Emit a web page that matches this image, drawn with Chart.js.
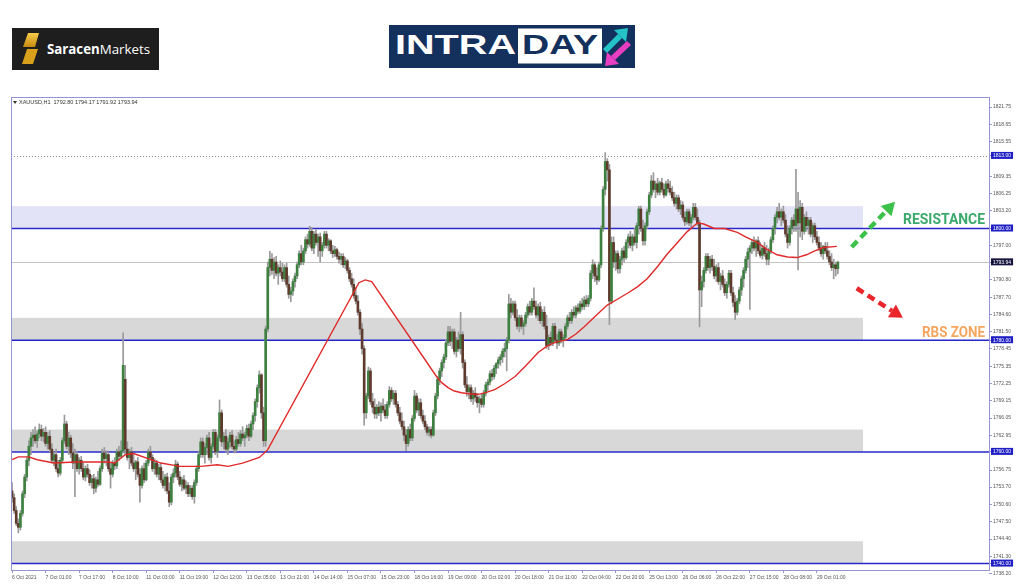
<!DOCTYPE html>
<html>
<head>
<meta charset="utf-8">
<title>XAUUSD H1 - Intraday</title>
<script src="https://cdn.jsdelivr.net/npm/chart.js@4.4.1/dist/chart.umd.min.js"></script>
<style>
  html, body { margin: 0; padding: 0; background: #fff; }
  #wrap { position: relative; width: 1024px; height: 587px; overflow: hidden; }
  #chart { position: absolute; left: 0; top: 0; }
  .logo { position: absolute; }
</style>
</head>
<body>
<div id="wrap">
  <canvas id="chart" width="1024" height="587"></canvas>

  <svg class="logo" style="left:12px;top:28px" width="147" height="42" viewBox="0 0 147 42">
    <defs>
      <linearGradient id="gold" x1="0" y1="0" x2="0" y2="1">
        <stop offset="0" stop-color="#f8cc4a"/>
        <stop offset="1" stop-color="#c58a10"/>
      </linearGradient>
    </defs>
    <rect width="147" height="42" fill="#1e1e1e"/>
    <polygon points="16,5 27,5 23,19 11,19" fill="url(#gold)"/>
    <polygon points="15,21 26,21 21,36 10,36" fill="#d9a01c"/>
    <text x="35" y="25.5" font-family="Open Sans, Liberation Sans, sans-serif" font-size="13.5" fill="#fff" textLength="103" lengthAdjust="spacingAndGlyphs"><tspan font-weight="bold">Saracen</tspan>Markets</text>
  </svg>

  <svg class="logo" style="left:389px;top:25px" width="246" height="43" viewBox="0 0 246 43">
    <rect width="246" height="43" fill="#14305c"/>
    <text x="6" y="28.5" font-family="Liberation Sans, Arial, sans-serif" font-weight="bold" font-size="28.5" fill="#fff" textLength="121" lengthAdjust="spacingAndGlyphs">INTRA</text>
    <rect x="129" y="3.5" width="84" height="35" fill="#fff"/>
    <text x="133" y="28.5" font-family="Liberation Sans, Arial, sans-serif" font-weight="bold" font-size="28.5" fill="#14305c" textLength="76" lengthAdjust="spacingAndGlyphs">DAY</text>
    <polygon points="214,24 218,28 233,13 229,9" fill="#25c2c8"/>
    <polygon points="225,5 237,17 239,3" fill="#25c2c8"/>
    <polygon points="222,31 226,35 242,20 238,16" fill="#e83fc2"/>
    <polygon points="218,27 230,39 216,41" fill="#e83fc2"/>
  </svg>
</div>

<script>
// time axis: one label every 16 hourly bars
const timeLabels = ["6 Oct 2021", "7 Oct 01:00", "7 Oct 17:00", "8 Oct 10:00", "11 Oct 03:00", "11 Oct 19:00",
  "12 Oct 12:00", "13 Oct 05:00", "13 Oct 21:00", "14 Oct 14:00", "15 Oct 07:00", "15 Oct 23:00",
  "18 Oct 16:00", "19 Oct 09:00", "20 Oct 02:00", "20 Oct 18:00", "21 Oct 11:00", "22 Oct 04:00",
  "22 Oct 20:00", "25 Oct 13:00", "26 Oct 06:00", "26 Oct 22:00", "27 Oct 15:00", "28 Oct 08:00", "29 Oct 01:00"];
const barsPerLabel = 16;

// price axis
const priceTicks = [1821.75, 1818.65, 1815.55, 1813.00, 1809.35, 1806.25, 1803.20, 1800.00, 1797.00, 1793.94,
  1790.80, 1787.70, 1784.60, 1781.50, 1780.00, 1778.45, 1775.35, 1772.25, 1769.15, 1766.05, 1762.95,
  1760.00, 1756.75, 1753.70, 1750.60, 1747.50, 1744.40, 1741.30, 1740.00, 1738.20];
const markedPrices = [1813.00, 1800.00, 1780.00, 1760.00, 1740.00];
const levels = [1800, 1780, 1760, 1740];
const zones = [[1800, 1804], [1780, 1784], [1760, 1764], [1740, 1744]];
const dottedLevel = 1813.00;

// XAUUSD H1 candles
const opens = [
  1753.0,1751.8,1749.5,1747.2,1746.5,1749.0,1752.5,1755.5,1758.5,1761.0,
  1762.5,1763.0,1762.0,1763.2,1764.0,1762.8,1763.5,1761.5,1762.8,1760.5,
  1758.5,1759.5,1757.0,1756.2,1758.5,1762.0,1765.0,1761.0,1762.5,1759.8,
  1758.0,1759.5,1757.0,1758.5,1757.0,1755.5,1757.0,1756.0,1754.5,1755.2,
  1753.5,1755.0,1754.2,1757.0,1759.8,1758.8,1759.5,1757.0,1756.0,1758.0,
  1757.5,1760.0,1759.2,1760.2,1773.0,1760.5,1759.0,1760.0,1758.0,1757.0,
  1758.2,1756.0,1754.0,1757.0,1755.0,1758.0,1760.0,1759.0,1757.0,1758.0,
  1756.0,1757.2,1755.0,1754.0,1755.5,1753.0,1751.0,1755.5,1756.2,1757.8,
  1755.5,1754.2,1755.0,1753.5,1754.0,1752.5,1753.5,1752.0,1754.5,1757.0,
  1759.5,1761.8,1759.5,1760.8,1762.5,1759.0,1761.0,1763.5,1760.0,1762.5,
  1767.0,1761.8,1762.8,1760.5,1761.8,1763.0,1761.0,1760.5,1762.2,1761.5,
  1763.2,1762.5,1763.0,1764.2,1762.8,1765.0,1766.5,1769.0,1771.5,1773.8,
  1767.0,1762.0,1782.0,1793.0,1794.5,1792.5,1794.0,1792.0,1793.0,1792.2,
  1791.0,1793.0,1790.0,1788.2,1788.8,1790.5,1791.5,1793.5,1795.5,1794.0,
  1796.0,1798.0,1797.2,1799.5,1796.5,1799.0,1797.5,1798.5,1796.0,1797.0,
  1799.0,1797.0,1797.8,1796.0,1795.5,1796.2,1795.0,1794.5,1795.0,1793.5,
  1794.2,1792.5,1791.0,1790.0,1788.0,1787.0,1785.0,1782.0,1778.5,1767.0,
  1770.0,1774.5,1769.0,1768.0,1766.8,1768.0,1767.0,1768.2,1767.5,1766.5,
  1768.5,1771.0,1769.5,1770.5,1768.5,1767.0,1765.5,1764.5,1763.0,1761.5,
  1764.0,1762.5,1766.0,1770.0,1767.5,1768.8,1766.5,1765.5,1764.5,1763.5,
  1764.0,1763.0,1767.0,1770.0,1773.0,1774.5,1776.0,1777.0,1779.5,1781.5,
  1779.8,1781.5,1778.0,1780.0,1778.5,1781.0,1776.0,1772.0,1770.8,1771.5,
  1769.5,1770.5,1769.8,1768.8,1769.5,1768.5,1770.5,1772.0,1772.5,1774.0,
  1773.5,1775.0,1775.8,1776.5,1777.0,1778.0,1778.5,1780.0,1786.5,1785.0,
  1786.5,1784.0,1782.5,1784.0,1782.5,1783.0,1784.5,1786.0,1785.0,1787.0,
  1786.0,1784.5,1786.0,1783.5,1785.0,1782.5,1779.0,1780.5,1779.5,1782.5,
  1780.0,1779.5,1781.5,1780.0,1780.5,1782.5,1784.0,1783.5,1785.0,1784.5,
  1785.8,1785.2,1786.5,1786.0,1787.2,1786.5,1787.5,1792.0,1793.5,1791.5,
  1790.8,1793.5,1800.0,1807.0,1812.0,1810.5,1787.0,1797.5,1794.0,1795.5,
  1792.8,1794.5,1796.0,1794.8,1797.5,1798.5,1797.0,1798.5,1797.5,1800.5,
  1803.5,1800.0,1797.8,1800.5,1803.0,1806.0,1808.5,1807.0,1808.0,1806.5,
  1808.2,1807.0,1806.0,1808.0,1807.2,1806.5,1805.5,1804.5,1805.5,1803.5,
  1804.2,1802.0,1801.2,1803.0,1801.0,1802.0,1803.8,1802.0,1801.0,1789.0,
  1790.5,1792.5,1795.0,1793.0,1794.5,1793.2,1791.5,1793.0,1790.5,1791.5,
  1790.0,1788.5,1790.0,1792.0,1788.5,1786.8,1785.0,1787.0,1789.0,1791.0,
  1792.5,1794.5,1795.8,1796.5,1797.5,1796.5,1797.8,1796.0,1795.2,1796.5,
  1795.5,1794.5,1796.0,1798.0,1800.0,1802.0,1803.0,1802.0,1803.0,1801.5,
  1799.0,1797.5,1800.0,1801.5,1800.5,1803.5,1801.0,1803.8,1799.5,1802.0,
  1800.5,1801.5,1799.0,1800.5,1798.5,1797.5,1796.5,1795.5,1796.8,1796.0,
  1795.0,1794.0,1793.0,1793.5,1792.80];
const highs = [
  1754.5,1752.5,1750.2,1748.0,1749.5,1753.0,1756.0,1759.0,1762.0,1763.5,
  1764.0,1764.5,1763.8,1765.0,1764.8,1764.2,1764.5,1763.5,1763.8,1761.5,
  1760.0,1760.5,1758.5,1759.0,1762.5,1766.6,1765.5,1763.5,1763.0,1761.5,
  1760.5,1760.0,1759.0,1759.2,1758.0,1757.5,1757.8,1756.8,1755.8,1756.0,
  1755.5,1756.5,1757.5,1760.5,1760.8,1760.2,1760.0,1758.0,1758.5,1759.0,
  1760.5,1761.0,1762.0,1781.3,1775.5,1761.8,1760.5,1760.8,1759.5,1758.5,
  1759.0,1757.0,1757.5,1758.0,1758.5,1760.5,1761.0,1759.5,1758.8,1758.5,
  1757.8,1758.0,1756.5,1756.0,1756.2,1754.5,1756.0,1757.0,1758.5,1758.2,
  1756.5,1755.5,1755.8,1754.8,1754.5,1754.0,1754.0,1755.0,1757.5,1760.0,
  1762.5,1762.5,1761.5,1763.0,1763.5,1761.5,1764.0,1764.0,1763.0,1769.3,
  1767.5,1763.5,1764.0,1762.5,1763.5,1763.8,1762.0,1762.8,1763.5,1763.8,
  1764.5,1763.5,1764.8,1765.0,1765.5,1767.0,1769.5,1772.0,1774.5,1774.0,
  1768.0,1782.5,1794.0,1795.9,1795.5,1794.8,1795.0,1793.5,1794.2,1793.8,
  1793.5,1793.8,1791.5,1789.5,1791.0,1792.0,1794.0,1796.0,1797.0,1796.5,
  1798.5,1799.0,1800.4,1800.2,1799.5,1799.8,1799.0,1799.2,1797.5,1799.5,
  1799.5,1798.2,1798.0,1797.0,1796.8,1796.5,1795.8,1795.5,1795.5,1794.8,
  1794.5,1793.0,1792.0,1791.0,1789.5,1788.0,1785.5,1783.0,1779.0,1770.5,
  1775.2,1775.0,1770.5,1769.5,1768.5,1769.0,1768.8,1769.5,1768.5,1769.0,
  1771.7,1771.5,1771.0,1771.0,1769.0,1768.0,1767.0,1765.5,1764.0,1764.5,
  1765.0,1766.5,1771.0,1770.5,1769.5,1769.5,1767.5,1766.5,1765.0,1764.5,
  1764.5,1767.5,1770.5,1773.5,1775.0,1776.5,1777.5,1780.0,1782.5,1782.5,
  1782.0,1782.0,1780.5,1781.5,1785.0,1781.5,1776.5,1773.5,1772.0,1772.0,
  1771.0,1771.5,1770.5,1770.0,1770.5,1771.0,1772.5,1773.0,1774.5,1774.8,
  1775.5,1776.0,1777.0,1777.5,1778.5,1779.5,1780.5,1788.2,1787.5,1787.0,
  1787.0,1785.5,1784.5,1784.5,1783.5,1785.0,1786.5,1787.0,1787.5,1789.4,
  1787.0,1786.5,1786.8,1785.5,1786.0,1784.5,1781.0,1781.5,1783.0,1783.0,
  1781.0,1782.0,1782.0,1781.0,1783.0,1784.5,1785.0,1785.5,1786.0,1786.2,
  1786.5,1787.0,1787.5,1787.8,1788.0,1788.0,1792.5,1794.4,1794.0,1793.0,
  1794.0,1800.5,1807.5,1813.6,1812.5,1811.5,1798.5,1798.5,1796.0,1796.0,
  1795.0,1796.5,1796.8,1798.0,1799.0,1799.5,1799.0,1800.0,1801.0,1804.0,
  1804.0,1801.5,1801.0,1803.5,1806.5,1809.5,1810.0,1808.5,1809.0,1808.5,
  1809.0,1808.0,1808.5,1808.8,1808.5,1807.5,1806.5,1806.0,1806.0,1805.0,
  1804.8,1803.0,1803.5,1803.5,1802.5,1804.5,1804.5,1803.5,1801.5,1791.5,
  1793.0,1795.5,1795.5,1795.0,1795.2,1794.5,1793.5,1793.8,1792.0,1792.5,
  1791.0,1790.5,1792.5,1792.5,1789.5,1788.0,1787.5,1789.5,1791.5,1793.0,
  1795.0,1796.5,1797.0,1798.0,1798.5,1798.0,1798.5,1797.5,1797.0,1797.5,
  1797.0,1796.5,1798.5,1800.5,1802.5,1803.8,1804.5,1803.5,1804.0,1802.5,
  1800.5,1800.5,1802.0,1802.5,1810.6,1806.5,1805.0,1804.5,1802.5,1803.0,
  1802.0,1802.0,1801.0,1801.0,1799.5,1798.5,1797.5,1797.0,1797.5,1797.5,
  1796.0,1795.5,1794.5,1794.0,1794.17];
const lows = [
  1751.0,1749.0,1746.8,1745.5,1746.0,1748.5,1751.8,1754.8,1757.5,1759.5,
  1761.0,1761.5,1760.8,1762.5,1762.0,1761.8,1761.0,1760.5,1760.0,1758.0,
  1757.5,1756.5,1755.5,1755.8,1758.0,1761.5,1760.5,1759.5,1759.0,1757.0,
  1752.0,1756.5,1756.0,1756.5,1755.0,1754.8,1755.5,1754.0,1753.5,1752.5,
  1752.8,1753.8,1754.0,1756.5,1758.0,1757.5,1756.5,1753.5,1755.5,1756.8,
  1757.0,1758.5,1759.0,1759.8,1759.5,1758.5,1757.0,1757.5,1756.5,1755.0,
  1755.5,1751.0,1753.5,1754.5,1754.8,1757.5,1758.5,1756.5,1756.0,1755.5,
  1755.0,1754.5,1753.5,1753.0,1752.5,1750.2,1750.5,1754.5,1755.5,1755.0,
  1753.8,1753.0,1753.2,1752.5,1752.0,1752.0,1751.5,1750.8,1754.0,1756.5,
  1759.0,1759.0,1758.0,1759.5,1758.5,1758.0,1760.5,1759.5,1759.0,1762.0,
  1761.0,1760.5,1760.0,1759.5,1760.8,1760.5,1759.8,1760.0,1761.0,1761.0,
  1762.0,1761.0,1762.5,1762.0,1762.5,1764.0,1765.5,1768.0,1770.5,1766.0,
  1761.0,1761.0,1781.5,1791.5,1791.8,1791.0,1791.5,1790.0,1791.5,1790.5,
  1790.5,1789.5,1787.5,1786.9,1788.0,1789.5,1791.0,1793.0,1793.5,1793.5,
  1795.5,1796.5,1796.8,1796.0,1795.5,1797.0,1795.0,1794.0,1795.0,1796.5,
  1796.5,1796.0,1795.5,1794.8,1795.0,1794.5,1793.8,1793.5,1793.0,1792.8,
  1792.0,1790.5,1789.5,1787.5,1786.5,1784.5,1781.0,1777.5,1764.8,1766.0,
  1769.5,1768.5,1767.0,1766.0,1766.0,1766.5,1765.5,1767.0,1766.0,1766.0,
  1768.0,1769.0,1768.5,1768.0,1766.5,1765.0,1764.0,1762.0,1760.2,1761.0,
  1762.0,1762.0,1765.5,1767.0,1766.5,1766.0,1765.0,1764.0,1763.0,1762.8,
  1762.5,1762.8,1766.5,1769.5,1772.0,1773.5,1775.0,1776.5,1779.0,1779.0,
  1778.5,1777.5,1777.0,1778.0,1777.5,1775.0,1771.5,1770.0,1769.5,1769.0,
  1768.5,1769.0,1768.0,1767.0,1768.0,1768.0,1770.0,1771.0,1772.0,1772.8,
  1773.0,1774.0,1775.0,1775.5,1776.0,1777.0,1774.5,1779.5,1784.0,1784.5,
  1783.5,1782.0,1781.5,1782.0,1781.0,1782.5,1784.0,1784.5,1784.5,1785.5,
  1784.0,1783.5,1783.0,1782.5,1782.0,1778.5,1778.3,1779.0,1779.0,1779.5,
  1778.5,1779.0,1779.5,1778.8,1780.0,1782.0,1783.0,1783.0,1784.0,1784.0,
  1784.8,1784.8,1785.5,1785.5,1786.0,1786.0,1787.0,1791.0,1790.5,1790.0,
  1790.5,1793.0,1799.5,1806.0,1808.5,1782.8,1786.5,1793.0,1792.5,1792.0,
  1792.0,1793.5,1794.0,1794.5,1796.5,1796.5,1796.0,1797.0,1796.5,1799.0,
  1799.5,1797.0,1797.0,1800.0,1802.5,1805.5,1806.5,1805.5,1806.0,1806.0,
  1806.5,1805.5,1805.8,1806.5,1806.0,1805.0,1804.0,1803.5,1803.0,1802.5,
  1801.5,1800.5,1800.8,1800.5,1800.0,1801.5,1801.5,1800.5,1782.4,1786.0,
  1789.5,1792.0,1792.5,1792.0,1792.5,1791.0,1790.5,1790.0,1789.0,1789.5,
  1788.0,1787.5,1789.5,1788.0,1786.0,1783.7,1784.5,1786.5,1788.0,1789.5,
  1792.0,1793.0,1785.5,1795.5,1796.0,1795.0,1795.5,1794.8,1794.5,1795.0,
  1793.5,1793.5,1795.5,1797.5,1799.0,1801.0,1801.5,1800.5,1801.0,1798.5,
  1796.5,1797.0,1799.0,1799.5,1799.5,1792.6,1798.5,1798.0,1799.0,1799.5,
  1799.0,1798.5,1797.5,1798.0,1797.0,1796.0,1795.0,1794.5,1795.5,1794.5,
  1793.5,1792.5,1791.0,1791.5,1791.92];
const closes = [
  1751.8,1749.5,1747.2,1746.5,1749.0,1752.5,1755.5,1758.5,1761.0,1762.5,
  1763.0,1762.0,1763.2,1764.0,1762.8,1763.5,1761.5,1762.8,1760.5,1758.5,
  1759.5,1757.0,1756.2,1758.5,1762.0,1765.0,1761.0,1762.5,1759.8,1758.0,
  1759.5,1757.0,1758.5,1757.0,1755.5,1757.0,1756.0,1754.5,1755.2,1753.5,
  1755.0,1754.2,1757.0,1759.8,1758.8,1759.5,1757.0,1756.0,1758.0,1757.5,
  1760.0,1759.2,1760.2,1775.5,1760.5,1759.0,1760.0,1758.0,1757.0,1758.2,
  1756.0,1754.0,1757.0,1755.0,1758.0,1760.0,1759.0,1757.0,1758.0,1756.0,
  1757.2,1755.0,1754.0,1755.5,1753.0,1751.0,1755.5,1756.2,1757.8,1755.5,
  1754.2,1755.0,1753.5,1754.0,1752.5,1753.5,1752.0,1754.5,1757.0,1759.5,
  1761.8,1759.5,1760.8,1762.5,1759.0,1761.0,1763.5,1760.0,1762.5,1767.0,
  1761.8,1762.8,1760.5,1761.8,1763.0,1761.0,1760.5,1762.2,1761.5,1763.2,
  1762.5,1763.0,1764.2,1762.8,1765.0,1766.5,1769.0,1771.5,1773.8,1767.0,
  1762.0,1782.0,1793.0,1794.5,1792.5,1794.0,1792.0,1793.0,1792.2,1791.0,
  1793.0,1790.0,1788.2,1788.8,1790.5,1791.5,1793.5,1795.5,1794.0,1796.0,
  1798.0,1797.2,1799.5,1796.5,1799.0,1797.5,1798.5,1796.0,1797.0,1799.0,
  1797.0,1797.8,1796.0,1795.5,1796.2,1795.0,1794.5,1795.0,1793.5,1794.2,
  1792.5,1791.0,1790.0,1788.0,1787.0,1785.0,1782.0,1778.5,1767.0,1770.0,
  1774.5,1769.0,1768.0,1766.8,1768.0,1767.0,1768.2,1767.5,1766.5,1768.5,
  1771.0,1769.5,1770.5,1768.5,1767.0,1765.5,1764.5,1763.0,1761.5,1764.0,
  1762.5,1766.0,1770.0,1767.5,1768.8,1766.5,1765.5,1764.5,1763.5,1764.0,
  1763.0,1767.0,1770.0,1773.0,1774.5,1776.0,1777.0,1779.5,1781.5,1779.8,
  1781.5,1778.0,1780.0,1778.5,1781.0,1776.0,1772.0,1770.8,1771.5,1769.5,
  1770.5,1769.8,1768.8,1769.5,1768.5,1770.5,1772.0,1772.5,1774.0,1773.5,
  1775.0,1775.8,1776.5,1777.0,1778.0,1778.5,1780.0,1786.5,1785.0,1786.5,
  1784.0,1782.5,1784.0,1782.5,1783.0,1784.5,1786.0,1785.0,1787.0,1786.0,
  1784.5,1786.0,1783.5,1785.0,1782.5,1779.0,1780.5,1779.5,1782.5,1780.0,
  1779.5,1781.5,1780.0,1780.5,1782.5,1784.0,1783.5,1785.0,1784.5,1785.8,
  1785.2,1786.5,1786.0,1787.2,1786.5,1787.5,1792.0,1793.5,1791.5,1790.8,
  1793.5,1800.0,1807.0,1812.0,1810.5,1787.0,1797.5,1794.0,1795.5,1792.8,
  1794.5,1796.0,1794.8,1797.5,1798.5,1797.0,1798.5,1797.5,1800.5,1803.5,
  1800.0,1797.8,1800.5,1803.0,1806.0,1808.5,1807.0,1808.0,1806.5,1808.2,
  1807.0,1806.0,1808.0,1807.2,1806.5,1805.5,1804.5,1805.5,1803.5,1804.2,
  1802.0,1801.2,1803.0,1801.0,1802.0,1803.8,1802.0,1801.0,1789.0,1790.5,
  1792.5,1795.0,1793.0,1794.5,1793.2,1791.5,1793.0,1790.5,1791.5,1790.0,
  1788.5,1790.0,1792.0,1788.5,1786.8,1785.0,1787.0,1789.0,1791.0,1792.5,
  1794.5,1795.8,1796.5,1797.5,1796.5,1797.8,1796.0,1795.2,1796.5,1795.5,
  1794.5,1796.0,1798.0,1800.0,1802.0,1803.0,1802.0,1803.0,1801.5,1799.0,
  1797.5,1800.0,1801.5,1800.5,1803.5,1801.0,1803.8,1799.5,1802.0,1800.5,
  1801.5,1799.0,1800.5,1798.5,1797.5,1796.5,1795.5,1796.8,1796.0,1795.0,
  1794.0,1793.0,1793.5,1792.8,1793.94];

// moving average
const maBars = [0, 3, 8, 12, 20, 30, 46, 49, 54, 58, 71, 80, 90, 98, 103, 110, 118, 122, 165.5, 168.5, 171.6,
  202.5, 205, 208, 211, 214.4, 218, 222.4, 226, 230.5, 235, 240, 245, 251, 255, 259, 265, 269, 273, 278, 284,
  290, 294, 298.5, 303, 308, 312.5, 317.5, 322, 327, 330, 335, 340, 346, 350, 355.5, 360, 365, 370, 374.5,
  379, 383, 387, 393.5];
const maValues = [1758.6, 1759.1, 1759.1, 1758.6, 1758.0, 1758.2, 1758.2, 1758.0, 1759.5, 1759.7, 1758.0,
  1757.4, 1757.4, 1757.7, 1757.4, 1758.0, 1759.0, 1760.4, 1790.3, 1790.8, 1790.5,
  1773.5, 1772.4, 1771.5, 1770.9, 1770.6, 1770.4, 1770.3, 1770.6, 1771.2, 1772.2, 1773.5, 1775.4, 1777.8,
  1778.9, 1779.6, 1780.1, 1781.1, 1782.4, 1784.2, 1786.3,
  1787.6, 1788.5, 1789.6, 1791.0, 1793.2, 1795.4, 1797.5, 1799.4, 1801.0, 1800.8, 1800.0, 1800.0, 1799.3,
  1798.5, 1797.5, 1796.3, 1795.3, 1794.9, 1794.8, 1795.3, 1796.0, 1796.6, 1796.8];

const last = closes.length - 1;
const lastClose = closes[last];

const BULL = '#3d8040';
const BEAR = '#5e3a2c';
const WICK = '#9a9a9a';
const FRAME = '#9494d2';
const LEVEL = '#2828c8';
const AXIS_FONT = '"Liberation Sans", Arial, sans-serif';
const zoneEndBar = 406;

function isMarked(v) {
  return markedPrices.includes(v) || v === lastClose;
}

function dashedArrow(ctx, x0, y0, x1, y1, color) {
  const ang = Math.atan2(y1 - y0, x1 - x0);
  const head = 13, half = 7.5;
  const bx = x1 - Math.cos(ang) * head;
  const by = y1 - Math.sin(ang) * head;
  ctx.strokeStyle = color;
  ctx.lineWidth = 4.5;
  ctx.setLineDash([8, 5]);
  ctx.beginPath();
  ctx.moveTo(x0, y0);
  ctx.lineTo(bx, by);
  ctx.stroke();
  ctx.setLineDash([]);
  ctx.fillStyle = color;
  ctx.beginPath();
  ctx.moveTo(x1, y1);
  ctx.lineTo(bx + Math.sin(ang) * half, by - Math.cos(ang) * half);
  ctx.lineTo(bx - Math.sin(ang) * half, by + Math.cos(ang) * half);
  ctx.closePath();
  ctx.fill();
}

const overlay = {
  id: 'overlay',
  beforeDatasetsDraw(chart) {
    const { ctx, chartArea: a, scales: { x, y } } = chart;
    ctx.save();
    ctx.beginPath();
    ctx.rect(a.left, a.top, a.right - a.left, a.bottom - a.top);
    ctx.clip();

    const zx = x.getPixelForValue(zoneEndBar);
    zones.forEach((z, k) => {
      const top = y.getPixelForValue(z[1]);
      const bot = y.getPixelForValue(z[0]);
      ctx.fillStyle = k === 0 ? '#e3e3f7' : '#d8d8d8';
      ctx.fillRect(a.left, top, zx - a.left, bot - top);
    });

    // dotted high line
    ctx.strokeStyle = '#8a8a8a';
    ctx.lineWidth = 1;
    ctx.setLineDash([1, 2]);
    let py = Math.round(y.getPixelForValue(dottedLevel)) + 0.5;
    ctx.beginPath(); ctx.moveTo(a.left, py); ctx.lineTo(a.right, py); ctx.stroke();
    ctx.setLineDash([]);

    // current price line
    ctx.strokeStyle = '#c4c4c4';
    py = Math.round(y.getPixelForValue(lastClose)) + 0.5;
    ctx.beginPath(); ctx.moveTo(a.left, py); ctx.lineTo(a.right, py); ctx.stroke();

    // level lines
    ctx.strokeStyle = LEVEL;
    ctx.lineWidth = 1.5;
    levels.forEach(v => {
      const ly = y.getPixelForValue(v);
      ctx.beginPath(); ctx.moveTo(a.left, ly); ctx.lineTo(a.right, ly); ctx.stroke();
    });
    ctx.restore();
  },
  afterDatasetsDraw(chart) {
    const { ctx, scales: { x, y } } = chart;
    ctx.save();
    dashedArrow(ctx, x.getPixelForValue(400.6), y.getPixelForValue(1796.7),
      x.getPixelForValue(421.3), y.getPixelForValue(1804.8), '#3cc24a');
    dashedArrow(ctx, x.getPixelForValue(403), y.getPixelForValue(1789.3),
      x.getPixelForValue(425), y.getPixelForValue(1784.0), '#e8262b');

    ctx.textAlign = 'right';
    ctx.textBaseline = 'alphabetic';
    ctx.font = 'bold 15px Roboto, "Liberation Sans", sans-serif';
    ctx.fillStyle = '#3ba96c';
    ctx.fillText('RESISTANCE', x.getPixelForValue(464.2), y.getPixelForValue(1800.75), 82);
    ctx.fillStyle = '#f5a65e';
    ctx.fillText('RBS ZONE', x.getPixelForValue(464.2), y.getPixelForValue(1780.6), 63);
    ctx.restore();
  },
  afterDraw(chart) {
    const { ctx, chartArea: a } = chart;
    ctx.save();
    ctx.strokeStyle = FRAME;
    ctx.lineWidth = 1;
    ctx.strokeRect(a.left + 0.5, a.top + 0.5, a.right - a.left, a.bottom - a.top);

    // symbol header
    ctx.fillStyle = '#333';
    ctx.beginPath();
    ctx.moveTo(a.left + 2, a.top + 4);
    ctx.lineTo(a.left + 6, a.top + 4);
    ctx.lineTo(a.left + 4, a.top + 7);
    ctx.closePath();
    ctx.fill();
    ctx.font = '5.5px ' + AXIS_FONT;
    ctx.textBaseline = 'middle';
    ctx.fillText('XAUUSD,H1  ' + [opens[last], highs[last], lows[last], closes[last]].map(v => v.toFixed(2)).join(' '),
      a.left + 8, a.top + 5.5);
    ctx.restore();
  }
};

const bodyData = opens.map((o, i) => ({ x: i, y: [o, closes[i]] }));
const wickData = lows.map((l, i) => ({ x: i, y: [l, highs[i]] }));
const maData = maBars.map((b, i) => ({ x: b, y: maValues[i] }));

new Chart(document.getElementById('chart'), {
  type: 'bar',
  data: {
    datasets: [
      {
        type: 'line',
        label: 'MA',
        data: maData,
        borderColor: '#e02a2a',
        borderWidth: 1.4,
        pointRadius: 0,
        tension: 0,
        order: 0
      },
      {
        label: 'body',
        data: bodyData,
        backgroundColor: c => closes[c.dataIndex] >= opens[c.dataIndex] ? BULL : BEAR,
        barThickness: 2,
        minBarLength: 1,
        grouped: false,
        order: 1
      },
      {
        label: 'wick',
        data: wickData,
        backgroundColor: WICK,
        barThickness: 1,
        grouped: false,
        order: 2
      }
    ]
  },
  options: {
    responsive: false,
    animation: false,
    devicePixelRatio: 1,
    layout: { padding: { left: 11, top: 97, right: 0, bottom: 0 } },
    plugins: { legend: { display: false }, tooltip: { enabled: false } },
    scales: {
      x: {
        type: 'linear',
        min: -0.5,
        max: 466.1,
        offset: false,
        afterFit: s => { s.height = 17; },
        afterBuildTicks: s => { s.ticks = timeLabels.map((_, k) => ({ value: k * barsPerLabel })); },
        grid: { offset: false, drawOnChartArea: false, drawTicks: true, tickLength: 3, color: FRAME },
        border: { display: false },
        ticks: {
          autoSkip: false, maxRotation: 0, minRotation: 0, align: 'start', padding: 2,
          color: '#555', font: { family: AXIS_FONT, size: 5 },
          callback: (v, k) => timeLabels[k]
        }
      },
      y: {
        type: 'linear',
        position: 'right',
        min: 1738.85,
        max: 1823.55,
        beginAtZero: false,
        afterFit: s => { s.width = 35; },
        afterBuildTicks: s => { s.ticks = priceTicks.map(v => ({ value: v })); },
        grid: { drawOnChartArea: false, drawTicks: true, tickLength: 3, color: FRAME },
        border: { display: false },
        ticks: {
          autoSkip: false, padding: 1,
          font: { family: AXIS_FONT, size: 5 },
          color: c => isMarked(c.tick.value) ? '#fff' : '#555',
          showLabelBackdrop: c => isMarked(c.tick.value),
          backdropColor: c => c.tick.value === lastClose ? '#14143c' : '#1f1fc4',
          backdropPadding: { left: 2, right: 2, top: 1, bottom: 0 },
          callback: v => v.toFixed(2)
        }
      }
    }
  },
  plugins: [overlay]
});
</script>
</body>
</html>
